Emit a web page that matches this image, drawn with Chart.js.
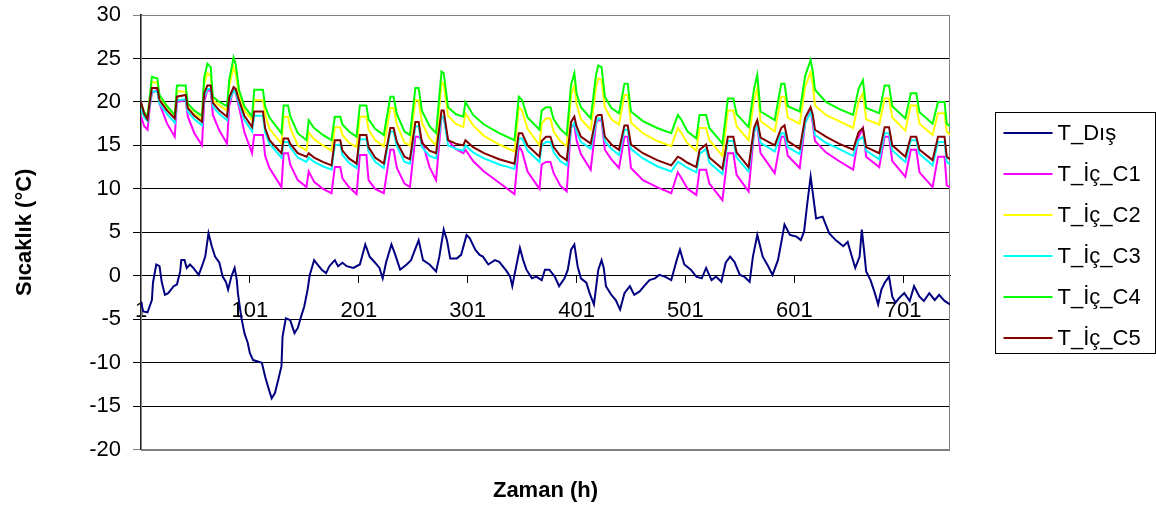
<!DOCTYPE html>
<html>
<head>
<meta charset="utf-8">
<script src="https://cdn.jsdelivr.net/npm/chart.js@4.4.1/dist/chart.umd.min.js"></script>
<style>
  html, body { margin: 0; padding: 0; background: #fff; }
  canvas { display: block; }
</style>
</head>
<body>
<canvas id="sicaklik-chart" width="1156" height="511"></canvas>
<script>
// x tick labels (hours)
var xTickLabels = [1, 101, 201, 301, 401, 501, 601, 701];
var seriesNames = ['T_Dış', 'T_İç_C1', 'T_İç_C2', 'T_İç_C3', 'T_İç_C4', 'T_İç_C5'];
var seriesColors = ['#000080', '#ff00ff', '#ffff00', '#00ffff', '#00ff00', '#800000'];

// outdoor temperature
var hoursOut = [1, 3, 7, 11, 12, 15, 18, 20, 23, 26, 31, 34, 37, 38, 41, 43, 46, 49, 54, 57,
  60, 63, 66, 69, 73, 76, 79, 81, 84, 87, 89, 90, 93, 96, 99, 101, 104, 112, 115, 118,
  121, 124, 127, 130, 131, 134, 138, 142, 145, 148, 151, 154, 156, 160, 163, 167, 171, 174, 179, 182,
  186, 190, 196, 202, 207, 211, 216, 220, 223, 226, 231, 234, 239, 245, 249, 256, 260, 266, 272, 275,
  279, 282, 285, 291, 295, 300, 303, 308, 312, 315, 320, 326, 330, 337, 340, 342, 344, 349, 352, 355,
  360, 364, 369, 372, 376, 381, 385, 390, 393, 396, 399, 402, 405, 410, 413, 417, 421, 424, 426, 428,
  433, 437, 441, 445, 450, 454, 459, 463, 468, 473, 477, 482, 488, 493, 496, 500, 506, 511, 516, 520,
  525, 529, 534, 538, 542, 546, 551, 555, 560, 563, 567, 572, 577, 581, 586, 589, 592, 597, 603, 607,
  610, 613, 616, 618, 621, 627, 633, 639, 646, 650, 653, 657, 661, 663, 665, 667, 671, 675, 678, 681,
  684, 688, 691, 694, 697, 702, 707, 711, 716, 720, 725, 730, 734, 739, 744];
var tOut = [-3.0, -4.1, -4.2, -2.8, -0.8, 1.3, 1.1, -0.7, -2.2, -2.0, -1.2, -1.0, 0.5, 1.8, 1.8, 0.9, 1.3, 0.9, 0.1, 1.1,
  2.2, 4.9, 3.4, 2.2, 1.5, -0.1, -0.7, -1.6, -0.1, 0.9, -0.5, -2.0, -4.7, -6.6, -7.7, -8.9, -9.7, -10.0, -11.6, -12.9,
  -14.1, -13.5, -12.0, -10.4, -7.0, -4.9, -5.1, -6.6, -6.0, -4.7, -3.5, -1.6, 0.1, 1.8, 1.3, 0.7, 0.3, 1.1, 1.8, 1.1,
  1.5, 1.1, 0.9, 1.3, 3.6, 2.2, 1.5, 0.9, -0.3, 1.5, 3.6, 2.6, 0.7, 1.3, 1.8, 4.1, 1.8, 1.3, 0.5, 2.2,
  5.3, 4.1, 2.0, 2.0, 2.4, 4.7, 4.3, 3.0, 2.4, 2.2, 1.3, 1.8, 1.6, 0.5, -0.1, -1.2, 0.1, 3.2, 1.8, 0.7,
  -0.3, -0.1, -0.5, 0.7, 0.7, -0.1, -1.2, -0.3, 0.7, 3.0, 3.6, 1.1, -0.3, -0.8, -2.0, -3.3, 0.7, 1.8, 0.9, -1.2,
  -2.2, -2.8, -3.9, -2.0, -1.2, -2.2, -1.8, -1.2, -0.5, -0.3, 0.1, -0.1, -0.5, 1.8, 3.0, 1.3, 0.7, -0.1, -0.3, 0.9,
  -0.5, -0.1, -0.7, 1.5, 2.2, 1.6, 0.1, -0.1, -0.7, 2.2, 4.7, 2.2, 1.1, 0.1, 1.8, 3.8, 5.9, 4.7, 4.5, 4.1,
  5.1, 8.4, 11.4, 9.5, 6.6, 6.8, 4.9, 4.1, 3.4, 3.9, 2.6, 0.9, 2.2, 5.3, 3.0, 0.5, -0.5, -2.0, -3.3, -1.6,
  -0.8, -0.1, -2.4, -3.1, -2.6, -2.0, -2.9, -1.2, -2.4, -2.9, -2.0, -2.8, -2.2, -2.9, -3.3];

// indoor temperatures (same sample hours for all five)
var hoursIn = [1, 4, 7, 9, 11, 16, 18, 25, 32, 34, 42, 44, 50, 57, 59, 62, 65, 67, 73, 80,
  82, 86, 88, 91, 96, 103, 105, 113, 115, 119, 130, 132, 136, 138, 145, 153, 155, 160, 168, 176,
  179, 184, 186, 192, 199, 202, 208, 210, 216, 224, 230, 233, 236, 243, 248, 253, 256, 259, 266, 272,
  277, 279, 283, 290, 297, 299, 306, 316, 330, 344, 348, 351, 356, 367, 369, 373, 377, 380, 386, 392,
  396, 399, 401, 405, 414, 419, 421, 424, 427, 433, 440, 445, 448, 451, 462, 475, 488, 494, 497, 503,
  511, 514, 520, 523, 535, 540, 545, 548, 559, 564, 567, 570, 583, 589, 592, 595, 606, 611, 616, 618,
  620, 630, 642, 655, 660, 664, 667, 679, 684, 688, 691, 703, 708, 713, 716, 728, 733, 739, 741, 744];
var tC1 = [18.3, 17.2, 16.8, 19.3, 21.0, 21.4, 19.8, 17.5, 16.0, 20.0, 20.2, 18.3, 16.4, 15.0, 20.0, 21.4, 21.2, 18.5, 16.7, 15.2,
  19.5, 21.5, 21.0, 19.4, 16.5, 14.1, 16.2, 16.2, 13.8, 12.4, 10.2, 14.1, 14.1, 12.8, 11.0, 10.2, 12.0, 10.8, 10.0, 9.5,
  12.5, 12.5, 11.2, 10.2, 9.4, 13.9, 13.9, 11.0, 10.0, 9.5, 14.5, 14.5, 12.4, 10.6, 10.2, 16.0, 16.0, 15.6, 12.5, 11.0,
  18.3, 18.2, 15.6, 14.6, 14.1, 14.5, 13.2, 12.0, 10.7, 9.4, 14.9, 14.3, 12.0, 10.0, 12.8, 13.1, 13.1, 11.8, 10.4, 9.7,
  17.3, 17.3, 15.6, 14.0, 12.2, 17.6, 17.9, 17.9, 14.5, 13.4, 12.4, 16.0, 16.0, 12.4, 11.0, 10.2, 9.5, 11.9, 11.3, 10.0,
  9.3, 12.2, 12.2, 10.6, 8.7, 14.1, 14.1, 11.6, 9.7, 16.5, 17.3, 14.1, 11.8, 16.0, 16.0, 13.8, 12.4, 17.6, 19.0, 17.5,
  15.5, 14.2, 13.2, 12.2, 16.0, 17.0, 13.7, 12.5, 16.0, 16.0, 13.2, 11.4, 14.5, 14.5, 11.9, 10.2, 13.7, 13.7, 10.4, 10.2];
var tC2 = [19.6, 18.6, 18.2, 20.2, 22.3, 22.2, 20.4, 19.1, 18.1, 21.2, 21.2, 19.4, 18.6, 18.0, 22.0, 23.3, 23.0, 20.2, 19.6, 19.0,
  21.8, 24.0, 23.2, 20.8, 19.0, 17.9, 20.2, 20.2, 18.6, 16.9, 15.2, 18.3, 18.3, 17.0, 15.0, 14.4, 16.5, 15.7, 15.0, 14.4,
  17.1, 17.1, 16.2, 15.3, 14.8, 18.3, 18.3, 16.8, 15.6, 14.9, 19.3, 19.3, 17.4, 15.3, 15.0, 20.2, 20.2, 17.6, 15.8, 15.0,
  22.3, 22.0, 18.4, 17.5, 17.1, 18.7, 17.3, 16.1, 15.1, 14.3, 19.4, 19.0, 16.9, 15.0, 17.5, 18.1, 18.1, 16.6, 15.5, 14.9,
  20.8, 21.9, 19.8, 18.0, 16.8, 21.8, 22.7, 22.5, 19.4, 18.0, 17.4, 20.8, 20.8, 17.6, 16.4, 15.5, 14.9, 17.0, 16.5, 15.2,
  14.4, 17.0, 17.0, 15.6, 13.8, 19.0, 19.0, 17.2, 15.6, 20.2, 21.6, 17.8, 16.6, 20.6, 20.6, 18.2, 17.5, 21.8, 23.4, 22.0,
  19.6, 18.5, 17.8, 17.0, 20.0, 21.0, 18.0, 17.4, 20.4, 20.4, 18.2, 16.7, 19.6, 19.6, 17.5, 16.2, 18.7, 18.7, 16.6, 16.2];
var tC3 = [19.3, 18.2, 17.8, 19.6, 21.2, 21.2, 19.8, 18.6, 17.6, 20.2, 20.3, 18.9, 18.0, 17.3, 20.6, 21.5, 21.5, 19.5, 18.6, 17.9,
  20.1, 21.3, 21.1, 19.8, 17.9, 16.6, 18.4, 18.4, 16.5, 15.2, 13.6, 15.4, 15.4, 14.8, 13.6, 13.1, 13.6, 13.1, 12.6, 12.2,
  15.0, 15.1, 13.9, 13.0, 12.4, 15.7, 15.7, 14.3, 13.1, 12.4, 16.6, 16.6, 14.9, 13.1, 12.9, 17.2, 17.2, 14.8, 13.8, 13.5,
  18.3, 18.3, 15.0, 14.6, 14.4, 15.0, 14.2, 13.5, 12.8, 12.3, 15.8, 15.8, 14.4, 13.1, 15.0, 15.4, 15.4, 14.2, 13.2, 12.7,
  17.0, 17.6, 16.6, 15.4, 14.6, 17.7, 18.1, 18.1, 15.5, 14.6, 13.9, 16.8, 16.8, 14.6, 13.5, 12.6, 12.0, 13.1, 12.9, 12.4,
  11.9, 14.0, 14.6, 13.0, 11.7, 15.5, 15.5, 13.6, 12.0, 16.5, 17.3, 15.3, 14.3, 16.4, 16.4, 14.8, 14.0, 17.6, 18.8, 18.0,
  16.2, 15.3, 14.6, 13.8, 15.6, 16.0, 14.4, 13.4, 16.4, 16.4, 14.4, 13.1, 15.6, 15.6, 14.0, 12.7, 15.4, 15.4, 13.1, 12.8];
var tC4 = [19.8, 18.8, 18.4, 20.5, 22.9, 22.7, 20.8, 19.5, 18.5, 21.9, 21.9, 19.8, 19.0, 18.4, 22.8, 24.4, 24.0, 20.6, 20.0, 19.5,
  22.5, 25.1, 24.3, 21.4, 19.5, 18.3, 21.4, 21.4, 19.5, 18.2, 16.4, 19.6, 19.6, 18.4, 16.4, 15.6, 17.9, 17.0, 16.2, 15.6,
  18.3, 18.3, 17.4, 16.6, 16.0, 19.6, 19.6, 18.0, 16.9, 16.2, 20.6, 20.6, 18.6, 16.6, 16.2, 21.6, 21.6, 19.0, 17.2, 16.4,
  23.5, 23.3, 19.4, 18.6, 18.3, 20.0, 18.5, 17.4, 16.4, 15.6, 20.6, 20.2, 18.2, 16.8, 19.0, 19.4, 19.4, 18.0, 16.9, 16.2,
  22.0, 23.3, 21.0, 19.4, 18.1, 23.2, 24.2, 24.0, 20.6, 19.3, 18.7, 22.1, 22.1, 18.9, 17.8, 17.0, 16.4, 18.5, 18.0, 16.6,
  15.8, 18.5, 18.5, 17.0, 15.2, 20.4, 20.4, 18.6, 17.1, 21.5, 23.1, 18.9, 17.9, 22.1, 22.1, 19.5, 18.9, 23.0, 24.8, 23.5,
  21.4, 20.0, 19.2, 18.5, 21.5, 22.5, 19.3, 18.7, 21.9, 21.9, 19.5, 18.1, 21.0, 21.0, 18.8, 17.5, 20.0, 20.0, 17.5, 17.2];
var tC5 = [20.0, 18.6, 18.0, 20.0, 21.6, 21.6, 20.2, 19.0, 18.1, 20.6, 20.8, 19.3, 18.4, 17.7, 21.0, 21.9, 21.9, 19.9, 19.0, 18.3,
  20.5, 21.7, 21.5, 20.2, 18.4, 17.1, 18.9, 18.9, 17.0, 15.6, 14.1, 15.8, 15.8, 15.2, 14.1, 13.7, 14.1, 13.6, 13.1, 12.7,
  15.6, 15.6, 14.4, 13.5, 12.9, 16.2, 16.2, 14.8, 13.6, 12.9, 17.0, 17.0, 15.4, 13.7, 13.4, 17.7, 17.7, 15.3, 14.4, 14.1,
  19.0, 19.0, 15.6, 15.2, 15.0, 15.6, 14.8, 14.1, 13.4, 12.9, 16.4, 16.4, 15.0, 13.7, 15.5, 16.0, 16.0, 14.8, 13.8, 13.3,
  17.7, 18.3, 17.2, 16.0, 15.2, 18.3, 18.5, 18.5, 16.0, 15.1, 14.5, 17.3, 17.3, 15.1, 14.1, 13.3, 12.7, 13.7, 13.5, 13.0,
  12.5, 14.5, 15.1, 13.6, 12.3, 16.0, 16.0, 14.2, 12.5, 17.0, 17.9, 15.9, 15.0, 17.0, 17.3, 15.5, 14.6, 18.2, 19.4, 18.5,
  16.8, 16.0, 15.2, 14.5, 16.5, 17.0, 14.8, 14.1, 17.1, 17.1, 15.0, 13.7, 16.0, 16.0, 14.5, 13.3, 16.0, 16.0, 13.7, 13.4];

function toPoints(hours, values) {
  return hours.map(function (h, i) { return { x: h, y: values[i] }; });
}

var FONT = 'Arial, "Liberation Sans", sans-serif';
Chart.defaults.font.family = FONT;
Chart.defaults.font.size = 22;
Chart.defaults.color = '#000';

var seriesData = [
  toPoints(hoursOut, tOut),
  toPoints(hoursIn, tC1),
  toPoints(hoursIn, tC2),
  toPoints(hoursIn, tC3),
  toPoints(hoursIn, tC4),
  toPoints(hoursIn, tC5)
];

var datasets = seriesNames.map(function (name, i) {
  return {
    label: name,
    data: seriesData[i],
    borderColor: seriesColors[i],
    backgroundColor: seriesColors[i],
    borderWidth: 2,
    pointRadius: 0,
    tension: 0,
    order: seriesNames.length - i
  };
});

// grey frame round the plot area
var plotFrame = {
  id: 'plotFrame',
  beforeDatasetsDraw: function (chart) {
    var ctx = chart.ctx, a = chart.chartArea;
    ctx.save();
    ctx.strokeStyle = '#808080';
    ctx.lineWidth = 1;
    ctx.strokeRect(Math.round(a.left) + 0.5, Math.round(a.top) + 0.5,
      Math.round(a.right - a.left) - 1, Math.round(a.bottom - a.top));
    ctx.restore();
  }
};

// boxed legend on the right, like the excel one
var sideLegend = {
  id: 'sideLegend',
  afterDraw: function (chart) {
    var ctx = chart.ctx, a = chart.chartArea;
    var boxLeft = Math.round(a.right) + 45.5;
    var boxTop = Math.round((a.top + a.bottom) / 2 - 120) + 0.5;
    ctx.save();
    ctx.strokeStyle = '#000';
    ctx.lineWidth = 1;
    ctx.strokeRect(boxLeft, boxTop, 160, 241);
    ctx.font = '22px ' + FONT;
    ctx.textBaseline = 'middle';
    ctx.textAlign = 'left';
    chart.data.datasets.forEach(function (ds, i) {
      var y = Math.round(boxTop + 20 + i * 41);
      ctx.strokeStyle = ds.borderColor;
      ctx.lineWidth = 2;
      ctx.beginPath();
      ctx.moveTo(boxLeft + 8, y);
      ctx.lineTo(boxLeft + 57, y);
      ctx.stroke();
      ctx.fillStyle = '#000';
      ctx.fillText(ds.label, boxLeft + 62, y + 1);
    });
    ctx.restore();
  }
};

var chartContext = document.getElementById('sicaklik-chart');
var sicaklikChart = new Chart(chartContext, {
  type: 'line',
  data: { datasets: datasets },
  options: {
    responsive: false,
    animation: false,
    devicePixelRatio: 1,
    layout: { padding: { top: 15, right: 206, bottom: 0, left: 0 } },
    plugins: {
      legend: { display: false },
      tooltip: { enabled: false },
      title: {
        display: true,
        position: 'bottom',
        fullSize: false,
        text: 'Zaman (h)',
        color: '#000',
        font: { size: 22, weight: 'bold' },
        padding: { top: 28, bottom: 7 }
      }
    },
    scales: {
      x: {
        type: 'linear',
        min: 1,
        max: 744,
        position: { y: 0 },
        afterBuildTicks: function (scale) {
          scale.ticks = xTickLabels.map(function (v) { return { value: v }; });
        },
        ticks: { autoSkip: false, maxRotation: 0, padding: 15, color: '#000' },
        grid: { drawOnChartArea: false, drawTicks: true, tickLength: 7, color: '#000' },
        border: { display: true, color: '#000', width: 1 }
      },
      y: {
        min: -20,
        max: 30,
        ticks: { stepSize: 5, padding: 12, color: '#000' },
        afterFit: function (scale) {
          scale.width = 141;
          scale.paddingTop = 0;
          scale.paddingBottom = 0;
        },
        grid: {
          tickLength: 8,
          color: function (c) {
            return (c.tick && (c.tick.value === 30 || c.tick.value === -20)) ? '#808080' : '#000';
          }
        },
        border: { display: true, color: '#222', width: 2 },
        title: {
          display: true,
          text: 'Sıcaklık (°C)',
          color: '#000',
          font: { size: 22, weight: 'bold' },
          padding: { top: 12, bottom: 0 }
        }
      }
    }
  },
  plugins: [plotFrame, sideLegend]
});
</script>
</body>
</html>
